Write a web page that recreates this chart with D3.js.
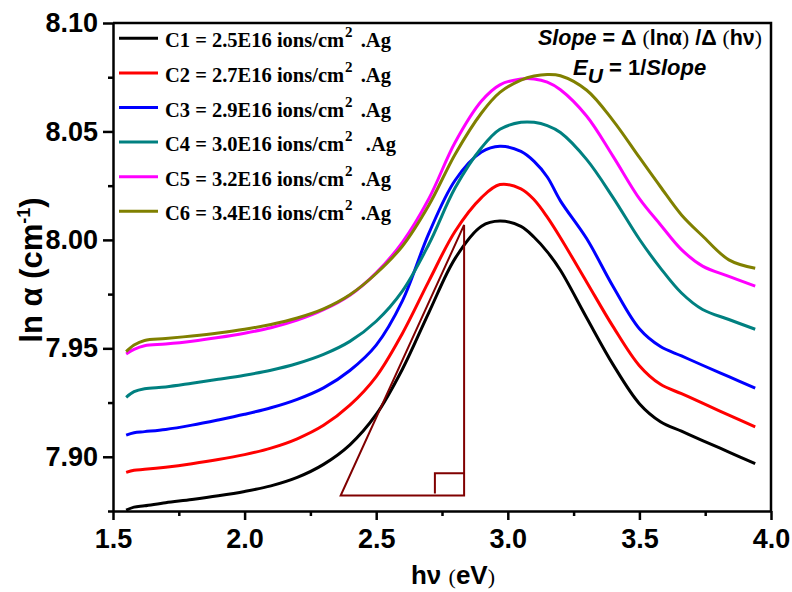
<!DOCTYPE html>
<html>
<head>
<meta charset="utf-8">
<script src="https://cdn.jsdelivr.net/npm/d3@7/dist/d3.min.js"></script>
<style>
  body { margin: 0; background: #fff; }
  svg { display: block; }
</style>
</head>
<body>
<svg id="chart" width="792" height="592"></svg>
<script>
// Photon energy grid (eV)
const hv = [1.55, 1.58, 1.62, 1.70, 1.80, 1.90, 2.00, 2.10, 2.20, 2.30, 2.40, 2.50, 2.60, 2.70,
            2.80, 2.90, 2.97, 3.05, 3.10, 3.15, 3.20, 3.30, 3.40, 3.50, 3.58, 3.66, 3.74, 3.84, 3.94];

// ln(alpha) for each Ag fluence
const c1 = [7.8754, 7.8768, 7.8774, 7.8788, 7.8803, 7.8820, 7.8840, 7.8866, 7.8905, 7.8965, 7.9055, 7.9195, 7.9405, 7.9665,
            7.9915, 8.0063, 8.0087, 8.0062, 8.0012, 7.9945, 7.9860, 7.9640, 7.9425, 7.9245, 7.9162, 7.9118, 7.9075, 7.9022, 7.8968];
const c2 = [7.8928, 7.8938, 7.8942, 7.8952, 7.8968, 7.8987, 7.9010, 7.9040, 7.9083, 7.9145, 7.9238, 7.9370, 7.9570, 7.9810,
            8.0040, 8.0195, 8.0255, 8.0235, 8.0185, 8.0105, 8.0010, 7.9805, 7.9600, 7.9420, 7.9334, 7.9291, 7.9247, 7.9192, 7.9138];
const c3 = [7.9100, 7.9111, 7.9116, 7.9126, 7.9146, 7.9170, 7.9196, 7.9226, 7.9265, 7.9318, 7.9398, 7.9515, 7.9720, 8.0030,
            8.0275, 8.0405, 8.0432, 8.0408, 8.0362, 8.0290, 8.0180, 8.0005, 7.9785, 7.9590, 7.9508, 7.9465, 7.9422, 7.9369, 7.9316];
const c4 = [7.9274, 7.9300, 7.9314, 7.9322, 7.9339, 7.9357, 7.9376, 7.9399, 7.9430, 7.9472, 7.9532, 7.9625, 7.9765, 7.9980,
            8.0240, 8.0425, 8.0510, 8.0542, 8.0542, 8.0527, 8.0495, 8.0370, 8.0195, 8.0003, 7.9870, 7.9755, 7.9679, 7.9633, 7.9588];
const c5 = [7.9474, 7.9495, 7.9512, 7.9520, 7.9533, 7.9550, 7.9570, 7.9595, 7.9630, 7.9678, 7.9745, 7.9848, 7.9990, 8.0190,
            8.0450, 8.0640, 8.0715, 8.0742, 8.0742, 8.0727, 8.0692, 8.0570, 8.0385, 8.0190, 8.0070, 7.9955, 7.9879, 7.9832, 7.9787];
const c6 = [7.9485, 7.9515, 7.9536, 7.9545, 7.9557, 7.9571, 7.9588, 7.9610, 7.9640, 7.9682, 7.9747, 7.9845, 7.9972, 8.0160,
            8.0395, 8.0585, 8.0680, 8.0737, 8.0756, 8.0763, 8.0757, 8.0690, 8.0550, 8.0380, 8.0245, 8.0115, 8.0018, 7.9908, 7.9869];

const seriesValues = [c1, c2, c3, c4, c5, c6];
const seriesIds = ["C1", "C2", "C3", "C4", "C5", "C6"];
const fluences = ["2.5E16", "2.7E16", "2.9E16", "3.0E16", "3.2E16", "3.4E16"];
const seriesColors = ["#000000", "#ff0000", "#0000ff", "#008080", "#ff00ff", "#808000"];

// Axis ticks
const xMajor = [1.5, 2.0, 2.5, 3.0, 3.5, 4.0];
const xMinor = [1.75, 2.25, 2.75, 3.25, 3.75];
const yMajor = [7.90, 7.95, 8.00, 8.05, 8.10];
const yMinor = [7.875, 7.925, 7.975, 8.025, 8.075];

// Urbach slope triangle (data space)
const triangleHv = [2.365, 2.834];
const triangleLnA = [7.8821, 8.0069];
const cornerMark = [2.723, 7.8924];

const svg = d3.select("#chart");
const x = d3.scaleLinear().domain([1.5, 4.0]).range([113, 771]);
const y = d3.scaleLinear().domain([7.875, 8.10]).range([511, 23]);

const sans = "'Liberation Sans', Arial, sans-serif";
const serif = "'Liberation Serif', 'Times New Roman', serif";

// Curves
const line = d3.line()
  .x(d => x(d[0]))
  .y(d => y(d[1]))
  .curve(d3.curveCatmullRom.alpha(0.5));

svg.append("g").selectAll("path")
  .data(seriesValues)
  .join("path")
  .attr("d", vals => line(vals.map((v, i) => [hv[i], v])))
  .attr("fill", "none")
  .attr("stroke", (d, i) => seriesColors[i])
  .attr("stroke-width", 3)
  .attr("stroke-linejoin", "round");

// Slope triangle
const tri = svg.append("g").attr("fill", "none").attr("stroke", "#800000").attr("stroke-width", 2);
tri.append("path")
  .attr("d", `M${x(triangleHv[0])},${y(triangleLnA[0])}L${x(triangleHv[1])},${y(triangleLnA[0])}L${x(triangleHv[1])},${y(triangleLnA[1])}Z`);
tri.append("path")
  .attr("d", `M${x(triangleHv[1])},${y(cornerMark[1])}L${x(cornerMark[0])},${y(cornerMark[1])}L${x(cornerMark[0])},${y(triangleLnA[0]) - 2}`);

// Axes
function styleAxis(g, labelled) {
  g.select(".domain").attr("stroke-width", 2.5);
  g.selectAll(".tick line").attr("stroke-width", 2.5);
  if (labelled) {
    g.selectAll(".tick text")
      .attr("font-family", sans).attr("font-weight", "bold")
      .attr("font-size", 27).attr("fill", "#000");
  }
}
const xAxisG = svg.append("g").attr("transform", "translate(0,511)")
  .call(d3.axisBottom(x).tickValues(xMajor).tickFormat(d3.format(".1f")).tickSize(9).tickSizeOuter(0).tickPadding(9));
styleAxis(xAxisG, true);
const xMinorG = svg.append("g").attr("transform", "translate(0,511)")
  .call(d3.axisBottom(x).tickValues(xMinor).tickFormat("").tickSize(5).tickSizeOuter(0));
xMinorG.select(".domain").remove();
styleAxis(xMinorG, false);

const yAxisG = svg.append("g").attr("transform", "translate(113,0)")
  .call(d3.axisLeft(y).tickValues(yMajor).tickFormat(d3.format(".2f")).tickSize(10).tickSizeOuter(0).tickPadding(5));
styleAxis(yAxisG, true);
const yMinorG = svg.append("g").attr("transform", "translate(113,0)")
  .call(d3.axisLeft(y).tickValues(yMinor).tickFormat("").tickSize(5).tickSizeOuter(0));
yMinorG.select(".domain").remove();
styleAxis(yMinorG, false);

// Top and right frame
svg.append("path")
  .attr("d", `M${x(1.5)},${y(8.10)}H${x(4.0)}V${y(7.875)}`)
  .attr("fill", "none").attr("stroke", "#000").attr("stroke-width", 2.5);

// Axis titles
const xt = svg.append("text").attr("x", 453).attr("y", 584).attr("text-anchor", "middle")
  .attr("font-family", sans).attr("font-weight", "bold").attr("font-size", 26);
xt.append("tspan").text("hν ");
xt.append("tspan").attr("font-family", serif).attr("font-weight", "normal").attr("font-size", 22).text("(");
xt.append("tspan").text("eV");
xt.append("tspan").attr("font-family", serif).attr("font-weight", "normal").attr("font-size", 22).text(")");

const yt = svg.append("text").attr("transform", "translate(42,270) rotate(-90)").attr("text-anchor", "middle")
  .attr("font-family", sans).attr("font-weight", "bold").attr("font-size", 31);
yt.append("tspan").text("ln α (cm");
yt.append("tspan").attr("font-size", 18).attr("dy", -12).text("-1");
yt.append("tspan").attr("dy", 12).text(")");

// Legend
const legend = svg.append("g");
seriesIds.forEach((id, i) => {
  const ly = 38.3 + i * 34.6;
  legend.append("line")
    .attr("x1", 119).attr("x2", 158).attr("y1", ly).attr("y2", ly)
    .attr("stroke", seriesColors[i]).attr("stroke-width", 3);
  const t = legend.append("text").attr("x", 165).attr("y", ly + 9)
    .attr("font-family", serif).attr("font-weight", "bold").attr("font-size", 20.5).attr("fill", "#000");
  t.append("tspan").text(`${id} = ${fluences[i]} ions/cm`);
  t.append("tspan").attr("font-size", 15).attr("dx", 1).attr("dy", -10).text("2");
  t.append("tspan").attr("dx", 3).attr("dy", 10).attr("xml:space", "preserve").text(id === "C4" ? "  .Ag" : " .Ag");
});

// Slope annotation
const a1 = svg.append("text").attr("x", 762).attr("y", 45).attr("text-anchor", "end")
  .attr("font-family", sans).attr("font-weight", "bold").attr("font-size", 21.5).attr("fill", "#000");
a1.append("tspan").attr("font-style", "italic").text("Slope");
a1.append("tspan").text(" = Δ ");
a1.append("tspan").attr("font-family", serif).attr("font-weight", "normal").text("(");
a1.append("tspan").text("lnα");
a1.append("tspan").attr("font-family", serif).attr("font-weight", "normal").text(")");
a1.append("tspan").text(" /Δ ");
a1.append("tspan").attr("font-family", serif).attr("font-weight", "normal").text("(");
a1.append("tspan").text("hν");
a1.append("tspan").attr("font-family", serif).attr("font-weight", "normal").text(")");

const a2 = svg.append("text").attr("x", 573).attr("y", 75)
  .attr("font-family", sans).attr("font-weight", "bold").attr("font-size", 22).attr("fill", "#000");
a2.append("tspan").attr("font-style", "italic").text("E");
a2.append("tspan").attr("font-style", "italic").attr("font-size", 21).attr("dy", 8).text("U");
a2.append("tspan").attr("dy", -8).text(" = 1/");
a2.append("tspan").attr("font-style", "italic").text("Slope");
</script>
</body>
</html>
